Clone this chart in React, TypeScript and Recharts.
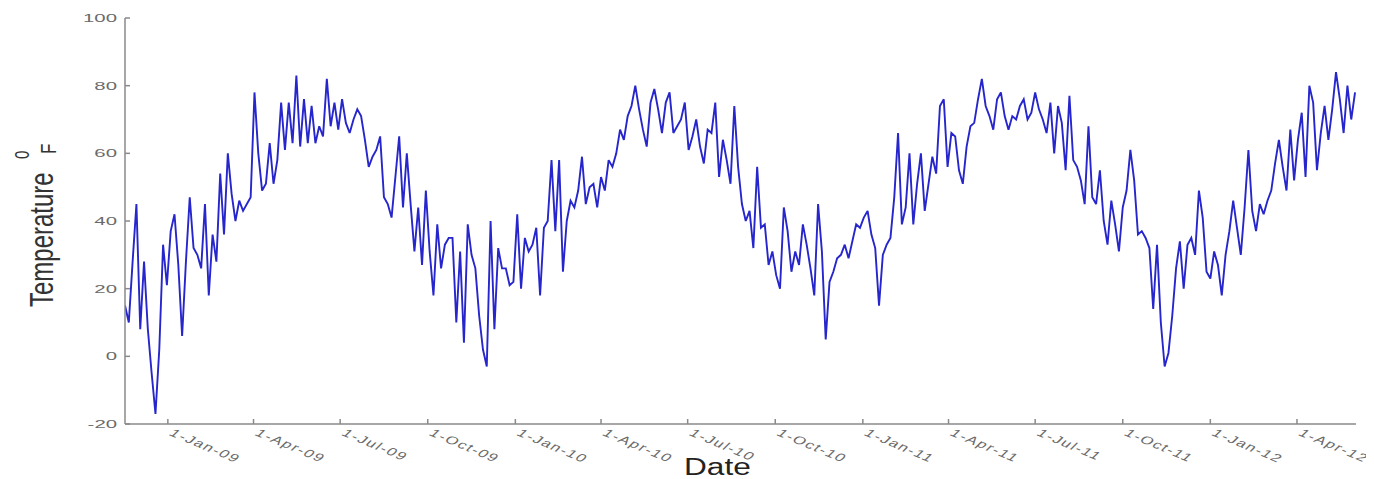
import React from 'react';
import { LineChart, Line, XAxis, YAxis } from 'recharts';

// Days are counted from 1-Jan-2009; one reading every 4 days from mid-November 2008.
const startDay = -45;
const stepDays = 4;
const temps = [
  15, 10, 28, 45, 8, 28, 8, -5, -17, 2,
  33, 21, 37, 42, 27, 6, 28, 47, 32, 30,
  26, 45, 18, 36, 28, 54, 36, 60, 48, 40,
  46, 43, 45, 47, 78, 60, 49, 51, 63, 51,
  58, 75, 61, 75, 63, 83, 62, 76, 63, 74,
  63, 68, 65, 82, 68, 75, 67, 76, 69, 66,
  70, 73, 71, 64, 56, 59, 61, 65, 47, 45,
  41, 53, 65, 44, 60, 45, 31, 44, 27, 49,
  31, 18, 39, 26, 33, 35, 35, 10, 31, 4,
  39, 30, 26, 12, 2, -3, 40, 8, 32, 26,
  26, 21, 22, 42, 20, 35, 31, 33, 38, 18,
  38, 40, 58, 37, 58, 25, 40, 46, 44, 49,
  59, 45, 50, 51, 44, 53, 49, 58, 56, 60,
  67, 64, 71, 74, 80, 73, 67, 62, 75, 79,
  73, 66, 75, 78, 66, 68, 70, 75, 61, 65,
  70, 62, 57, 67, 66, 75, 53, 64, 58, 51,
  74, 56, 45, 40, 43, 32, 56, 38, 39, 27,
  31, 24, 20, 44, 37, 25, 31, 27, 39, 33,
  26, 18, 45, 31, 5, 22, 25, 29, 30, 33,
  29, 34, 39, 38, 41, 43, 36, 32, 15, 30,
  33, 35, 47, 66, 39, 44, 60, 39, 51, 60,
  43, 51, 59, 54, 74, 76, 56, 66, 65, 55,
  51, 62, 68, 69, 76, 82, 74, 71, 67, 76,
  78, 71, 67, 71, 70, 74, 76, 70, 72, 78,
  73, 70, 66, 75, 60, 74, 69, 55, 77, 58,
  56, 52, 45, 68, 47, 45, 55, 40, 33, 46,
  39, 31, 44, 49, 61, 52, 36, 37, 35, 32,
  14, 33, 10, -3, 1, 12, 26, 34, 20, 33,
  35, 30, 49, 41, 25, 23, 31, 27, 18, 30,
  37, 46, 38, 30, 44, 61, 43, 37, 45, 42,
  46, 49, 57, 64, 56, 49, 67, 52, 64, 72,
  53, 80, 75, 55, 66, 74, 64, 73, 84, 76,
  66, 80, 70, 78,
];

const tickDays = [0, 90, 181, 273, 365, 455, 546, 638, 730, 820, 911, 1003, 1095, 1186];
const tickLabels = [
  '1-Jan-09', '1-Apr-09', '1-Jul-09', '1-Oct-09',
  '1-Jan-10', '1-Apr-10', '1-Jul-10', '1-Oct-10',
  '1-Jan-11', '1-Apr-11', '1-Jul-11', '1-Oct-11',
  '1-Jan-12', '1-Apr-12',
];
const yTicks = [-20, 0, 20, 40, 60, 80, 100];
const xDomain = [-45, 1248];

const data = temps.map((v, i) => ({ day: startDay + i * stepDays, temp: v }));

const FONT = '"Liberation Sans", Arial, sans-serif';

const YTick = (props: any) => {
  const { x, y, payload } = props;
  return (
    <g transform={`translate(${x},${y}) scale(1.85,1)`}>
      <text textAnchor="end" dy={4} fontSize={11} fill="#6a6a6a" fontFamily={FONT}>
        {payload.value}
      </text>
    </g>
  );
};

const XTick = (props: any) => {
  const { x, y, payload } = props;
  const idx = tickDays.indexOf(payload.value);
  const label = idx >= 0 ? tickLabels[idx] : String(payload.value);
  return (
    <g transform={`translate(${x + 7},${y}) scale(1.55,1) rotate(33)`}>
      <text
        textAnchor="start"
        dy={8}
        fontSize={11}
        letterSpacing={1.1}
        fill="#6a6a6a"
        fontFamily={FONT}
      >
        {label}
      </text>
    </g>
  );
};

const YLabel = () => (
  <g transform="translate(45,299) scale(1.35,1) rotate(-90)">
    <text x={0} y={0} fontSize={24} fill="#333" fontFamily={FONT}>
      Temperature
    </text>
    <text x={148} y={-18} fontSize={15} fill="#333" fontFamily={FONT}>0</text>
    <text x={153} y={2} fontSize={17} fill="#333" fontFamily={FONT}>F</text>
  </g>
);

const XLabel = () => (
  <g transform="translate(676,467) scale(1.32,1)">
    <text x={0} y={0} fontSize={24} fill="#222" fontFamily={FONT}>
      Date
    </text>
  </g>
);

export default function App() {
  return (
    <div style={{ background: '#fff' }}>
      <LineChart
        width={1366}
        height={471}
        data={data}
        margin={{ top: 10, right: 18, bottom: 10, left: 57 }}
        style={{ overflow: 'visible' }}
      >
        <XAxis
          dataKey="day"
          type="number"
          domain={xDomain}
          ticks={tickDays}
          interval={0}
          height={45}
          stroke="#8a8a8a"
          strokeWidth={1.5}
          tickSize={-5}
          tickMargin={9}
          tick={<XTick />}
          label={<XLabel />}
          allowDataOverflow
        />
        <YAxis
          type="number"
          domain={[-20, 100]}
          ticks={yTicks}
          interval={0}
          width={60}
          stroke="#8a8a8a"
          strokeWidth={1.5}
          tickSize={-5}
          tickMargin={13}
          tick={<YTick />}
          label={<YLabel />}
        />
        <Line
          type="linear"
          dataKey="temp"
          stroke="#2626cc"
          strokeWidth={1.9}
          strokeLinejoin="miter"
          strokeMiterlimit={3}
          dot={false}
          isAnimationActive={false}
        />
      </LineChart>
    </div>
  );
}
